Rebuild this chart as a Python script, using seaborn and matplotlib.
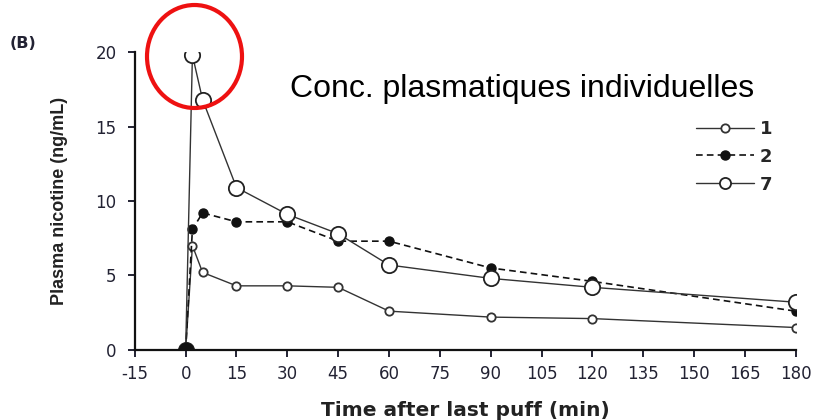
import matplotlib
matplotlib.use("Agg")
import matplotlib.pyplot as plt
from matplotlib.patches import Ellipse
from matplotlib.lines import Line2D
import seaborn as sns
import pandas as pd

time_min = [0, 2, 5, 15, 30, 45, 60, 90, 120, 180]
subj_1 = [0, 7.0, 5.2, 4.3, 4.3, 4.2, 2.6, 2.2, 2.1, 1.5]
subj_2 = [0, 8.1, 9.2, 8.6, 8.6, 7.3, 7.3, 5.5, 4.6, 2.6]
subj_7 = [0, 19.8, 16.8, 10.9, 9.1, 7.8, 5.7, 4.8, 4.2, 3.2]
labels = ["1", "2", "7"]
x_ticks = [-15, 0, 15, 30, 45, 60, 75, 90, 105, 120, 135, 150, 165, 180]
y_ticks = [0, 5, 10, 15, 20]

sns.set_theme(style="ticks")
plt.rcParams['font.family'] = ['DejaVu Sans']
plt.rcParams['axes.unicode_minus'] = False

df = pd.DataFrame({
    "t": time_min * 3,
    "c": subj_1 + subj_2 + subj_7,
    "s": [labels[0]] * len(time_min) + [labels[1]] * len(time_min) + [labels[2]] * len(time_min),
})

fig = plt.figure(figsize=(8.17, 4.2), dpi=100)
ax = fig.add_axes([0.165, 0.167, 0.809, 0.709])

styles = {
    "1": dict(color="#333333", lw=1.0, ls="-", marker="o", ms=6, mfc="white", mec="#333333", mew=1.3),
    "2": dict(color="#111111", lw=1.2, ls=(0, (4, 2.5)), marker="o", ms=6.5, mfc="#111111", mec="#111111", mew=1),
    "7": dict(color="#333333", lw=1.0, ls="-", marker="o", ms=11, mfc="white", mec="#222222", mew=1.3),
}
for lab in labels:
    sub = df[df["s"] == lab]
    st = styles[lab]
    sns.lineplot(data=sub, x="t", y="c", ax=ax, color=st["color"], linewidth=st["lw"],
                 linestyle=st["ls"], marker=st["marker"], markersize=st["ms"],
                 markerfacecolor=st["mfc"], markeredgecolor=st["mec"], markeredgewidth=st["mew"],
                 sort=False, legend=False)
ax.plot([time_min[0]], [subj_1[0]], 'o', color="#111111", ms=10, zorder=5)

ax.set_xlim(-15, 180)
ax.set_ylim(0, 20)
ax.set_xticks(x_ticks)
ax.set_yticks(y_ticks)
ax.tick_params(axis='both', labelsize=12, colors="#222233", length=5, width=1.4, direction='out')
ax.tick_params(axis='x', pad=6)
ax.tick_params(axis='y', pad=8)
for s in ["left", "bottom"]:
    ax.spines[s].set_linewidth(1.6)
    ax.spines[s].set_color("#111111")
sns.despine(ax=ax)

ax.set_xlabel("Time after last puff (min)", fontsize=14.5, fontweight='bold', color="#222222", labelpad=13)
ax.set_ylabel("Plasma nicotine (ng/mL)", fontsize=13, fontweight='bold', color="#222222",
              labelpad=20, family=['Liberation Sans', 'DejaVu Sans'])

handles = [Line2D([0], [0], color=styles[l]["color"], lw=styles[l]["lw"], ls=styles[l]["ls"],
                  marker="o", ms=styles[l]["ms"] if l != "7" else 8, mfc=styles[l]["mfc"],
                  mec=styles[l]["mec"], mew=styles[l]["mew"]) for l in labels]
ax.legend(handles, labels, loc="upper left", bbox_to_anchor=(0.825, 0.827), frameon=False,
          handlelength=3.2, handletextpad=0.3, labelspacing=0.55,
          prop={'weight': 'semibold', 'size': 13})

fig.text(0.012, 0.885, "(B)", fontsize=11.5, fontweight='bold', color="#222233")
fig.text(0.355, 1 - 97 / 420, "Conc. plasmatiques individuelles", fontsize=23, color="black",
         va='baseline', family=['Liberation Sans', 'DejaVu Sans'])

fig.add_artist(Ellipse((194.5 / 817, 1 - 56.5 / 420), 95 / 817, 103 / 420,
                       transform=fig.transFigure, fill=False, edgecolor="#ee1111", linewidth=3))

fig.savefig("out.png", dpi=100)
